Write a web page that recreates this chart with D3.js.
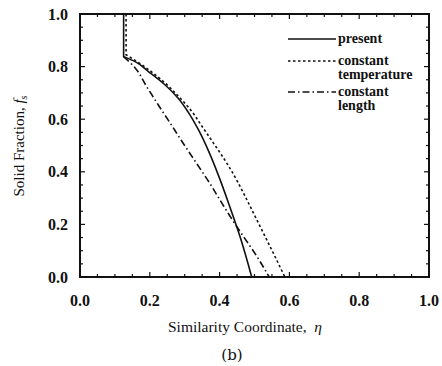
<!DOCTYPE html>
<html>
<head>
<meta charset="utf-8">
<script src="https://cdn.jsdelivr.net/npm/d3@7"></script>
<style>
  body { margin: 0; background: #fff; }
  text { font-family: "Liberation Serif", "Times New Roman", serif; fill: #111; }
</style>
</head>
<body>
<div id="chart"></div>
<script>
const width = 442, height = 366;
const margin = { top: 14, right: 13, bottom: 89, left: 80 };

// eta vs solid fraction
const presentEta = [0.125, 0.125, 0.158, 0.196, 0.244, 0.282, 0.310, 0.340, 0.370, 0.400, 0.430, 0.460, 0.492];
const presentFs  = [1.000, 0.838, 0.819, 0.781, 0.730, 0.679, 0.627, 0.558, 0.474, 0.375, 0.264, 0.147, 0.000];

const tempEta = [0.132, 0.132, 0.160, 0.200, 0.245, 0.280, 0.320, 0.350, 0.382, 0.410, 0.440, 0.470, 0.500, 0.545, 0.587];
const tempFs  = [1.000, 0.845, 0.822, 0.785, 0.736, 0.690, 0.630, 0.572, 0.510, 0.455, 0.390, 0.315, 0.235, 0.115, 0.000];

const lengthEta = [0.125, 0.158, 0.191, 0.224, 0.258, 0.290, 0.334, 0.372, 0.406, 0.440, 0.473, 0.506, 0.542];
const lengthFs  = [0.838, 0.795, 0.724, 0.655, 0.586, 0.520, 0.432, 0.356, 0.282, 0.210, 0.145, 0.080, 0.000];

const majorTicks = [0, 0.2, 0.4, 0.6, 0.8, 1.0];
const minorTicks = d3.range(0, 1.0001, 0.05);
const legendItems = [
  { label: ['present'], dash: null },
  { label: ['constant', 'temperature'], dash: '2.5,2.5' },
  { label: ['constant', 'length'], dash: '7,3,1.5,3' }
];

const svg = d3.select('#chart').append('svg')
  .attr('width', width)
  .attr('height', height);

const x = d3.scaleLinear().domain([0, 1]).range([margin.left, width - margin.right]);
const y = d3.scaleLinear().domain([0, 1]).range([height - margin.bottom, margin.top]);

// ticks on all four sides, pointing inward
const tickLen = v => (majorTicks.some(m => Math.abs(m - v) < 1e-6) ? 5 : 3);
const gTicks = svg.append('g').attr('stroke', '#111').attr('stroke-width', 1.2);
minorTicks.forEach(v => {
  const L = tickLen(v);
  gTicks.append('line').attr('x1', x(v)).attr('x2', x(v)).attr('y1', y(0)).attr('y2', y(0) - L);
  gTicks.append('line').attr('x1', x(v)).attr('x2', x(v)).attr('y1', y(1)).attr('y2', y(1) + L);
  gTicks.append('line').attr('x1', x(0)).attr('x2', x(0) + L).attr('y1', y(v)).attr('y2', y(v));
  gTicks.append('line').attr('x1', x(1)).attr('x2', x(1) - L).attr('y1', y(v)).attr('y2', y(v));
});

svg.append('rect')
  .attr('x', x(0)).attr('y', y(1))
  .attr('width', x(1) - x(0)).attr('height', y(0) - y(1))
  .attr('fill', 'none').attr('stroke', '#111').attr('stroke-width', 2);

// tick labels
svg.append('g').selectAll('text').data(majorTicks).enter().append('text')
  .attr('x', d => x(d)).attr('y', y(0) + 29)
  .attr('text-anchor', 'middle')
  .style('font-size', '16px').style('font-weight', 'bold')
  .text(d => d.toFixed(1));

svg.append('g').selectAll('text').data(majorTicks).enter().append('text')
  .attr('x', x(0) - 12).attr('y', d => y(d) + 5.5)
  .attr('text-anchor', 'end')
  .style('font-size', '16px').style('font-weight', 'bold')
  .text(d => d.toFixed(1));

// axis titles
svg.append('text')
  .attr('x', 245).attr('y', 332)
  .attr('text-anchor', 'middle')
  .style('font-size', '15.5px')
  .html('Similarity Coordinate,&#8194;<tspan font-style="italic">η</tspan>');

const yTitle = svg.append('text')
  .attr('transform', 'translate(24,146) rotate(-90)')
  .attr('text-anchor', 'middle')
  .style('font-size', '15px');
yTitle.append('tspan').text('Solid Fraction, ');
yTitle.append('tspan').attr('font-style', 'italic').text('f');
yTitle.append('tspan').attr('font-style', 'italic').attr('font-size', '10px').attr('dy', 3).text('s');

svg.append('text')
  .attr('x', 232).attr('y', 360)
  .attr('text-anchor', 'middle')
  .style('font-size', '15px')
  .style('font-family', '"DejaVu Serif", serif')
  .text('(b)');

// curves: vertical segment then smooth branch
const smooth = d3.line().x(d => x(d[0])).y(d => y(d[1])).curve(d3.curveMonotoneY);
function curvePath(eta, fs, hasVertical) {
  const pts = eta.map((e, i) => [e, fs[i]]);
  if (!hasVertical) return smooth(pts);
  const vert = `M${x(pts[0][0])},${y(pts[0][1])}L${x(pts[1][0])},${y(pts[1][1])}`;
  return vert + smooth(pts.slice(1)).replace(/^M/, 'L');
}

const gLines = svg.append('g').attr('fill', 'none').attr('stroke', '#111');
gLines.append('path').attr('d', curvePath(presentEta, presentFs, true)).attr('stroke-width', 1.6);
gLines.append('path').attr('d', curvePath(tempEta, tempFs, true))
  .attr('stroke-width', 1.6).attr('stroke-dasharray', legendItems[1].dash);
gLines.append('path').attr('d', curvePath(lengthEta, lengthFs, false))
  .attr('stroke-width', 1.6).attr('stroke-dasharray', legendItems[2].dash);

// legend
const legendRows = [39, 61, 92];
const gLegend = svg.append('g');
legendItems.forEach((item, i) => {
  const yy = legendRows[i];
  gLegend.append('line')
    .attr('x1', 288).attr('x2', 336).attr('y1', yy).attr('y2', yy)
    .attr('stroke', '#111').attr('stroke-width', 1.6)
    .attr('stroke-dasharray', item.dash);
  item.label.forEach((t, j) => {
    gLegend.append('text')
      .attr('x', 338).attr('y', yy + 4 + j * 14)
      .style('font-size', '14px').style('font-weight', 'bold')
      .text(t);
  });
});
</script>
</body>
</html>
